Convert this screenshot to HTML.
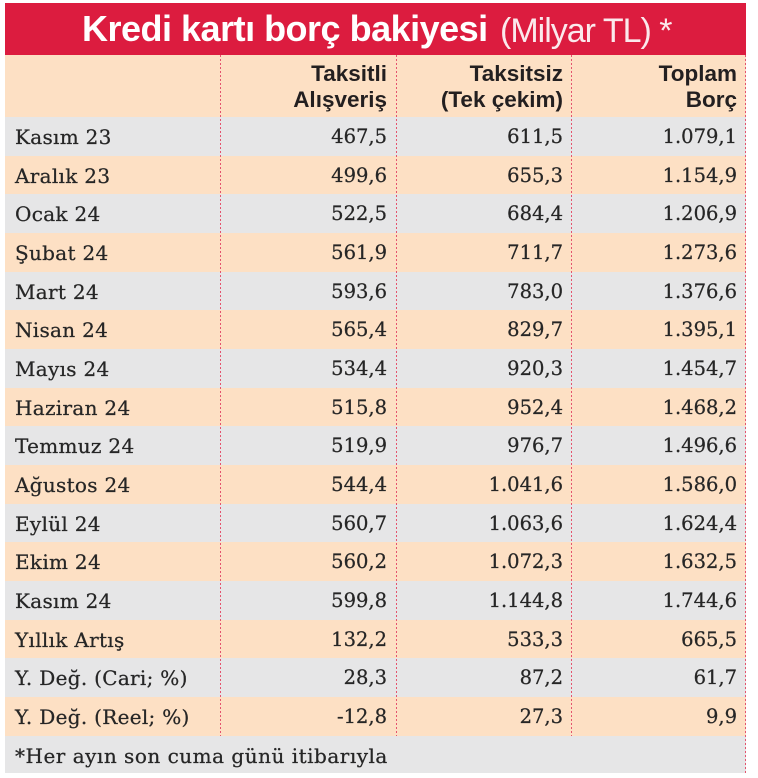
<!DOCTYPE html>
<html><head><meta charset="utf-8">
<style>
*{margin:0;padding:0;box-sizing:border-box}
html,body{width:758px;height:778px;background:#fff;overflow:hidden}
body{position:relative;font-family:"DejaVu Serif","Liberation Serif",serif}
.banner{position:absolute;left:5px;top:3px;width:741px;height:52px;background:#dc1c3f}
.title{position:absolute;left:82px;top:0;height:52px;white-space:nowrap;color:#fff;font-family:"Liberation Sans",sans-serif}
.title .b{font-weight:bold;font-size:36px;letter-spacing:-0.5px;position:absolute;left:0;top:6px;line-height:40px}
.title .l{font-weight:normal;font-size:34px;letter-spacing:-1px;position:absolute;left:418px;top:8px;line-height:40px;color:#fbe9ec}
.row{position:absolute;left:5px;width:741px;height:38.67px}
.g{background:#e6e6e7}
.p{background:#fde0c4}
.row span{position:absolute;top:1px;line-height:38.67px;font-size:19.5px;color:#262626;white-space:nowrap;-webkit-text-stroke:0.25px #262626}
.row .lab{left:10px;font-size:20px;letter-spacing:0.3px}
.row .fn{letter-spacing:0.5px}
.row .c1{right:359px}
.row .c2{right:183px}
.row .c3{right:9px}
.head{position:absolute;left:5px;top:55px;width:741px;height:62px;background:#fde0c4}
.hd{position:absolute;top:6.2px;font-family:"Liberation Sans",sans-serif;font-weight:bold;font-size:22.5px;line-height:26px;text-align:right;color:#231f20;white-space:nowrap}
.vl{position:absolute;width:1px;background:repeating-linear-gradient(to bottom,#e4536e 0,#e4536e 2px,transparent 2px,transparent 4px)}
</style></head><body>
<div class="banner"></div>
<div class="title" style="top:3px"><span class="b">Kredi kartı borç bakiyesi</span><span class="l">(Milyar TL) *</span></div>
<div class="head">
<div class="hd" style="right:359px">Taksitli<br>Alışveriş</div>
<div class="hd" style="right:183px">Taksitsiz<br>(Tek çekim)</div>
<div class="hd" style="right:9px">Toplam<br>Borç</div>
</div>
<div class="row g" style="top:117px"><span class="lab">Kasım 23</span><span class="c1">467,5</span><span class="c2">611,5</span><span class="c3">1.079,1</span></div>
<div class="row p" style="top:155.67px"><span class="lab">Aralık 23</span><span class="c1">499,6</span><span class="c2">655,3</span><span class="c3">1.154,9</span></div>
<div class="row g" style="top:194.33px"><span class="lab">Ocak 24</span><span class="c1">522,5</span><span class="c2">684,4</span><span class="c3">1.206,9</span></div>
<div class="row p" style="top:233px"><span class="lab">Şubat 24</span><span class="c1">561,9</span><span class="c2">711,7</span><span class="c3">1.273,6</span></div>
<div class="row g" style="top:271.67px"><span class="lab">Mart 24</span><span class="c1">593,6</span><span class="c2">783,0</span><span class="c3">1.376,6</span></div>
<div class="row p" style="top:310.33px"><span class="lab">Nisan 24</span><span class="c1">565,4</span><span class="c2">829,7</span><span class="c3">1.395,1</span></div>
<div class="row g" style="top:349px"><span class="lab">Mayıs 24</span><span class="c1">534,4</span><span class="c2">920,3</span><span class="c3">1.454,7</span></div>
<div class="row p" style="top:387.67px"><span class="lab">Haziran 24</span><span class="c1">515,8</span><span class="c2">952,4</span><span class="c3">1.468,2</span></div>
<div class="row g" style="top:426.33px"><span class="lab">Temmuz 24</span><span class="c1">519,9</span><span class="c2">976,7</span><span class="c3">1.496,6</span></div>
<div class="row p" style="top:465px"><span class="lab">Ağustos 24</span><span class="c1">544,4</span><span class="c2">1.041,6</span><span class="c3">1.586,0</span></div>
<div class="row g" style="top:503.67px"><span class="lab">Eylül 24</span><span class="c1">560,7</span><span class="c2">1.063,6</span><span class="c3">1.624,4</span></div>
<div class="row p" style="top:542.33px"><span class="lab">Ekim 24</span><span class="c1">560,2</span><span class="c2">1.072,3</span><span class="c3">1.632,5</span></div>
<div class="row g" style="top:581px"><span class="lab">Kasım 24</span><span class="c1">599,8</span><span class="c2">1.144,8</span><span class="c3">1.744,6</span></div>
<div class="row p" style="top:619.67px"><span class="lab">Yıllık Artış</span><span class="c1">132,2</span><span class="c2">533,3</span><span class="c3">665,5</span></div>
<div class="row g" style="top:658.33px"><span class="lab">Y. Değ. (Cari; %)</span><span class="c1">28,3</span><span class="c2">87,2</span><span class="c3">61,7</span></div>
<div class="row p" style="top:697px"><span class="lab">Y. Değ. (Reel; %)</span><span class="c1">-12,8</span><span class="c2">27,3</span><span class="c3">9,9</span></div>
<div class="row g" style="top:735.67px;height:37.33px"><span class="lab fn">*Her ayın son cuma günü itibarıyla</span></div>
<div class="vl" style="left:220px;top:55px;height:680.67px"></div>
<div class="vl" style="left:396px;top:55px;height:680.67px"></div>
<div class="vl" style="left:571px;top:55px;height:680.67px"></div>
<div class="vl" style="left:745px;top:55px;height:718px"></div>
</body></html>
